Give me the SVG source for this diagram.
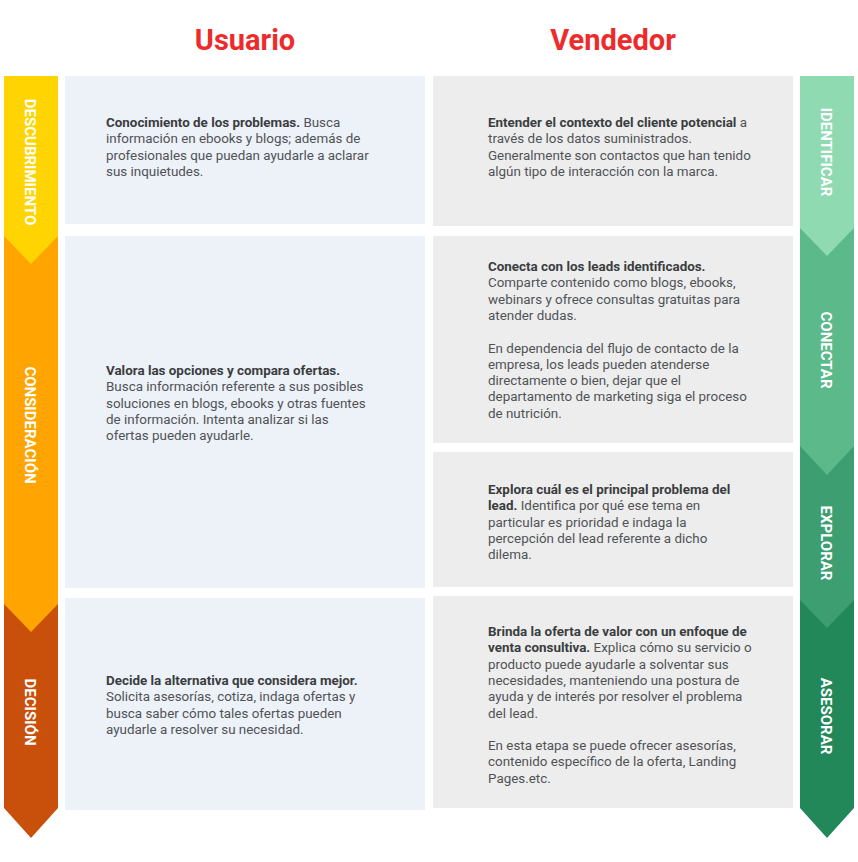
<svg xmlns="http://www.w3.org/2000/svg" width="858" height="862" viewBox="0 0 858 862">
<style>
.t{font-family:Roboto,"Liberation Sans",sans-serif;font-size:13.4px;fill:#505356}
.t tspan.b{font-weight:bold;fill:#3a3d40}
.h{font-family:Roboto,"Liberation Sans",sans-serif;font-size:29px;font-weight:bold;fill:#ee2b2b;text-anchor:middle}
.v{font-family:Roboto,"Liberation Sans",sans-serif;font-size:15px;font-weight:bold;fill:#fff;text-anchor:middle}
.u{fill:#edf1f8}.s{fill:#ededed}
</style>
<rect width="858" height="862" fill="#fff"/>
<text class="h" x="245" y="50">Usuario</text>
<text class="h" x="613" y="50">Vendedor</text>
<g id="stages-left">
<polygon points="4,604 58,604 58,808 31,838 4,808" fill="#c9500b"/>
<polygon points="4,236 58,236 58,604 31,632 4,604" fill="#ffa400"/>
<polygon points="4,76 58,76 58,236 31,264 4,236" fill="#ffd400"/>
<text class="v" transform="translate(25,162) rotate(90)">DESCUBRIMIENTO</text>
<text class="v" transform="translate(25,425) rotate(90)">CONSIDERACIÓN</text>
<text class="v" transform="translate(25,712) rotate(90)">DECISIÓN</text>
</g>
<g id="stages-right">
<polygon points="800,600 854,600 854,808 827,838 800,808" fill="#22885a"/>
<polygon points="800,446 854,446 854,600 827,628 800,600" fill="#3d9e72"/>
<polygon points="800,228 854,228 854,446 827,475 800,446" fill="#5cb98a"/>
<polygon points="800,76 854,76 854,228 827,256 800,228" fill="#8fdab1"/>
<text class="v" transform="translate(821,152) rotate(90)">IDENTIFICAR</text>
<text class="v" transform="translate(821,350) rotate(90)">CONECTAR</text>
<text class="v" transform="translate(821,543) rotate(90)">EXPLORAR</text>
<text class="v" transform="translate(821,716) rotate(90)">ASESORAR</text>
</g>
<g id="u1"><rect class="u" x="65" y="76" width="360" height="148"/>
<text class="t" x="106" y="127"><tspan class="b">Conocimiento de los problemas.</tspan> Busca<tspan x="106" dy="16.3">información en  ebooks y blogs; además de</tspan><tspan x="106" dy="16.3">profesionales que puedan ayudarle a aclarar</tspan><tspan x="106" dy="16.3">sus inquietudes.</tspan></text></g>
<g id="u2"><rect class="u" x="65" y="236" width="360" height="352"/>
<text class="t" x="106" y="375"><tspan class="b">Valora las opciones y compara ofertas.</tspan><tspan x="106" dy="16.3">Busca información referente a sus posibles</tspan><tspan x="106" dy="16.3">soluciones en blogs, ebooks y otras fuentes</tspan><tspan x="106" dy="16.3">de información. Intenta analizar si las</tspan><tspan x="106" dy="16.3">ofertas pueden ayudarle.</tspan></text></g>
<g id="u3"><rect class="u" x="65" y="598" width="360" height="212"/>
<text class="t" x="106" y="685"><tspan class="b">Decide la alternativa que considera mejor.</tspan><tspan x="106" dy="16.3">Solicita asesorías, cotiza, indaga ofertas y</tspan><tspan x="106" dy="16.3">busca saber cómo tales ofertas pueden</tspan><tspan x="106" dy="16.3">ayudarle a resolver su necesidad.</tspan></text></g>
<g id="v1"><rect class="s" x="433" y="76" width="360" height="150"/>
<text class="t" x="488" y="127"><tspan class="b">Entender el contexto del cliente potencial</tspan> a<tspan x="488" dy="16.3">través de los datos suministrados.</tspan><tspan x="488" dy="16.3">Generalmente son contactos que han tenido</tspan><tspan x="488" dy="16.3">algún tipo de interacción con la marca.</tspan></text></g>
<g id="v2"><rect class="s" x="433" y="236" width="360" height="207"/>
<text class="t" x="488" y="271"><tspan class="b">Conecta con los leads identificados.</tspan><tspan x="488" dy="16.3">Comparte contenido como blogs, ebooks,</tspan><tspan x="488" dy="16.3">webinars y ofrece consultas gratuitas para</tspan><tspan x="488" dy="16.3">atender dudas.</tspan><tspan x="488" dy="32.6">En dependencia del flujo de contacto de la</tspan><tspan x="488" dy="16.3">empresa, los leads pueden atenderse</tspan><tspan x="488" dy="16.3">directamente o bien, dejar que el</tspan><tspan x="488" dy="16.3">departamento de marketing siga el proceso</tspan><tspan x="488" dy="16.3">de nutrición.</tspan></text></g>
<g id="v3"><rect class="s" x="433" y="452" width="360" height="135"/>
<text class="t" x="488" y="494"><tspan class="b">Explora cuál es el principal problema del</tspan><tspan x="488" dy="16.3" class="b">lead.</tspan> Identifica por qué ese tema en<tspan x="488" dy="16.3">particular es prioridad e indaga la</tspan><tspan x="488" dy="16.3">percepción del lead referente a dicho</tspan><tspan x="488" dy="16.3">dilema.</tspan></text></g>
<g id="v4"><rect class="s" x="433" y="596" width="360" height="212"/>
<text class="t" x="488" y="636"><tspan class="b">Brinda la oferta de valor con un enfoque de</tspan><tspan x="488" dy="16.3" class="b">venta consultiva.</tspan> Explica cómo su servicio o<tspan x="488" dy="16.3">producto puede ayudarle a solventar sus</tspan><tspan x="488" dy="16.3">necesidades, manteniendo una postura de</tspan><tspan x="488" dy="16.3">ayuda y de interés por resolver el problema</tspan><tspan x="488" dy="16.3">del lead.</tspan><tspan x="488" dy="32.6">En esta etapa se puede ofrecer asesorías,</tspan><tspan x="488" dy="16.3">contenido específico de la oferta, Landing</tspan><tspan x="488" dy="16.3">Pages.etc.</tspan></text></g>
<g id="connectors"/>
</svg>
